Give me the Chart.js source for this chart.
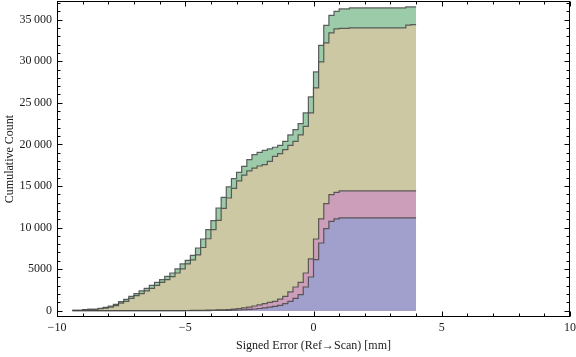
<!DOCTYPE html>
<html>
<head>
<meta charset="utf-8">
<script src="https://cdn.jsdelivr.net/npm/chart.js@4.4.1/dist/chart.umd.min.js"></script>
<style>
html,body{margin:0;padding:0;background:#fff;}
#wrap{width:576px;height:357px;}
</style>
</head>
<body>
<div id="wrap"><canvas id="c" width="576" height="357"></canvas></div>
<script>
// Bin start edges (width 0.2), last edge 4.0
const binStarts = [-9.4,-9.2,-9.0,-8.8,-8.6,-8.4,-8.2,-8.0,-7.8,-7.6,-7.4,-7.2,-7.0,-6.8,-6.6,-6.4,-6.2,-6.0,-5.8,-5.6,-5.4,-5.2,-5.0,-4.8,-4.6,-4.4,-4.2,-4.0,-3.8,-3.6,-3.4,-3.2,-3.0,-2.8,-2.6,-2.4,-2.2,-2.0,-1.8,-1.6,-1.4,-1.2,-1.0,-0.8,-0.6,-0.4,-0.2,0.0,0.2,0.4,0.6,0.8,1.0,1.2,1.4,1.6,1.8,2.0,2.2,2.4,2.6,2.8,3.0,3.2,3.4,3.6,3.8];
const lastEdge = 4.0;

const greenCum = [40,50,140,150,170,280,400,560,760,1080,1360,1720,2040,2370,2690,3050,3400,3730,4130,4530,5020,5620,6050,6650,7540,8620,9740,10830,12350,13630,14880,15880,16630,17360,18160,18760,19040,19280,19450,19650,19880,20360,21130,21770,22490,23780,25700,28710,31910,34320,35520,36000,36290,36290,36410,36410,36410,36410,36410,36410,36410,36410,36410,36410,36410,36530,36530];
const oliveCum = [40,50,130,150,160,230,300,420,600,920,1130,1490,1800,2050,2370,2690,3050,3400,3730,4090,4530,5020,5620,6100,6700,7600,8650,9750,10850,12300,13550,14700,15600,16300,16800,17150,17400,17560,17960,18560,18880,19360,19880,20360,21130,22170,23780,26790,29910,32200,33400,33880,33950,33950,34000,34000,34000,34000,34000,34000,34000,34000,34000,34000,34000,34350,34400];
const pinkCum = [0,0,0,0,0,0,0,0,0,0,0,0,0,0,0,0,0,0,0,0,0,0,20,30,40,50,60,70,90,110,140,180,240,330,420,560,700,840,1000,1120,1400,1720,2250,2850,3400,4530,6220,8620,11030,12870,13950,14230,14400,14400,14400,14400,14400,14400,14400,14400,14400,14400,14400,14400,14400,14400,14400];
const blueCum = [0,0,0,0,0,0,0,0,0,0,0,0,0,0,0,0,0,0,0,0,0,0,0,0,5,10,15,20,25,35,45,60,80,110,150,200,260,330,420,520,640,840,1120,1480,1920,2850,4050,6130,8140,9860,10740,11030,11150,11150,11150,11150,11150,11150,11150,11150,11150,11150,11150,11150,11150,11150,11150];

const xTickValues = [-10,-5,0,5,10];
const xTickLabels = ['\u221210','\u22125','0','5','10'];
const yTickValues = [0,5000,10000,15000,20000,25000,30000,35000];
const yTickLabels = ['0','5000','10\u2009000','15\u2009000','20\u2009000','25\u2009000','30\u2009000','35\u2009000'];

function toPoints(vals){
  const pts = binStarts.map((x,i)=>({x:x,y:vals[i]}));
  pts.push({x:lastEdge,y:vals[vals.length-1]});
  return pts;
}

const lineCol = 'rgba(70,70,70,0.85)';
function ds(label, vals, fillCol){
  return {label, data: toPoints(vals), stepped: true, fill: 'origin',
    backgroundColor: fillCol, borderColor: lineCol, borderWidth: 1.2,
    pointRadius: 0, pointHoverRadius: 0, tension: 0};
}

const framePlugin = {
  id: 'frame',
  afterDraw(chart){
    const ctx = chart.ctx, a = chart.chartArea;
    const xs = chart.scales.x, ys = chart.scales.y;
    ctx.save();
    ctx.strokeStyle = '#000';
    ctx.lineWidth = 1;
    const L = Math.round(a.left)+0.5, R = Math.round(a.right)-0.5, T = Math.round(a.top)+0.5, B = Math.round(a.bottom)-0.5;
    ctx.strokeRect(L, T, R-L, B-T);
    ctx.beginPath();
    for(let v=-10; v<=10; v++){
      const px = Math.round(xs.getPixelForValue(v))+0.5;
      const len = (v%5===0)?5:3;
      ctx.moveTo(px,B); ctx.lineTo(px,B-len);
      ctx.moveTo(px,T); ctx.lineTo(px,T+len);
    }
    for(let v=0; v<=37000; v+=1000){
      const py = Math.round(ys.getPixelForValue(v))+0.5;
      const len = (v%5000===0)?5:3;
      ctx.moveTo(L,py); ctx.lineTo(L+len,py);
      ctx.moveTo(R,py); ctx.lineTo(R-len,py);
    }
    ctx.stroke();
    ctx.restore();
  }
};

const serif = '"Liberation Serif","Times New Roman",serif';

new Chart(document.getElementById('c'), {
  type: 'line',
  data: { datasets: [
    ds('A', blueCum, '#A19FCC'),
    ds('B', pinkCum, '#CC9EB9'),
    ds('C', oliveCum, '#CCC8A3'),
    ds('D', greenCum, '#9CCBA9')
  ]},
  options: {
    responsive: false, animation: false, devicePixelRatio: 1,
    layout: { padding: { left: 0, right: 6, top: 1, bottom: 0 } },
    plugins: { legend: {display:false}, tooltip: {enabled:false} },
    scales: {
      x: {
        type: 'linear', min: -10, max: 10,
        afterFit: s => { s.height = 40; s.paddingLeft = 0; s.paddingRight = 0; },
        afterBuildTicks: s => { s.ticks = xTickValues.map(v=>({value:v})); },
        grid: { display: false, drawTicks: false },
        border: { display: false },
        ticks: { autoSkip:false, maxRotation:0, padding: 4, color:'#1a1a1a',
          font: { family: serif, size: 12 },
          callback: (v)=>{ const i = xTickValues.indexOf(v); return i>=0?xTickLabels[i]:''; } },
        title: { display: true, text: 'Signed Error (Ref\u2192Scan) [mm]', color:'#1a1a1a',
          font: { family: serif, size: 12 }, padding: { top: 0, bottom: 4 } }
      },
      y: {
        type: 'linear', min: -760, max: 37240,
        afterFit: s => { s.width = 57; s.paddingTop = 0; s.paddingBottom = 0; },
        afterBuildTicks: s => { s.ticks = yTickValues.map(v=>({value:v})); },
        grid: { display: false, drawTicks: false },
        border: { display: false },
        ticks: { autoSkip:false, padding: 5, color:'#1a1a1a',
          font: { family: serif, size: 12 },
          callback: (v)=>{ const i = yTickValues.indexOf(v); return i>=0?yTickLabels[i]:''; } },
        title: { display: true, text: 'Cumulative Count', color:'#1a1a1a',
          font: { family: serif, size: 12 }, padding: { top: 3, bottom: 0 } }
      }
    }
  },
  plugins: [framePlugin]
});
</script>
</body>
</html>
